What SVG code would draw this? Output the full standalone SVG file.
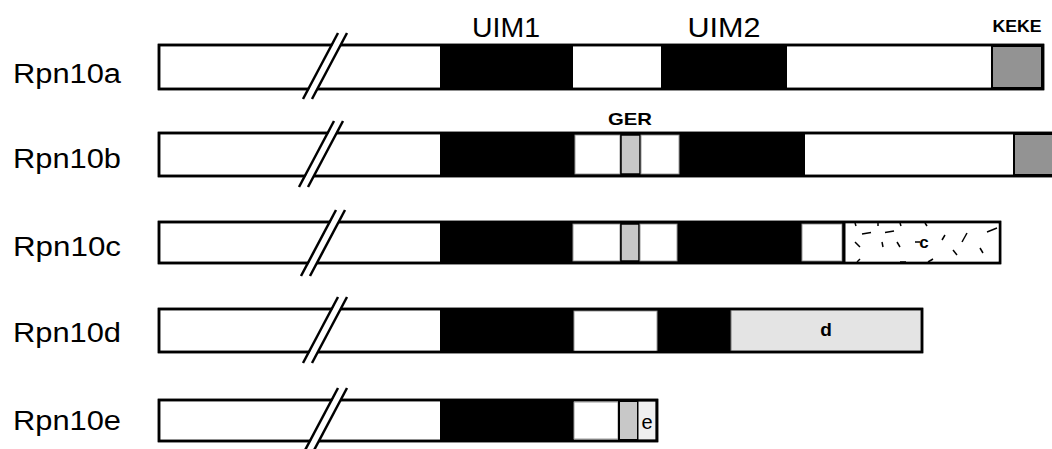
<svg xmlns="http://www.w3.org/2000/svg" xmlns:xlink="http://www.w3.org/1999/xlink" width="1052" height="449" viewBox="0 0 1052 449">
<style>
.lbl{font-family:"Liberation Sans",Arial,sans-serif;font-size:27px;fill:#000}
.top{font-family:"Liberation Sans",Arial,sans-serif;font-size:27px;fill:#000;text-anchor:middle}
.small{font-family:"Liberation Sans",Arial,sans-serif;font-size:17px;font-weight:bold;fill:#000;text-anchor:middle}
.bar{fill:#fff;stroke:#000;stroke-width:2.5}
.blk{fill:#000}
.wht{fill:#fff;stroke:#9a9a9a;stroke-width:1}
.dg{fill:#939393;stroke:#000;stroke-width:2}
.lg{fill:#c8c8c8;stroke:#000;stroke-width:1.5}
.dash{stroke:#000;stroke-width:1.5;fill:none}
</style>
<defs>
<g id="slash">
<polygon points="339,-12 347,-12 312,54 304,54" fill="#fff"/>
<line x1="338" y1="-12" x2="303" y2="54" stroke="#000" stroke-width="2.5"/>
<line x1="347" y1="-12" x2="312" y2="54" stroke="#000" stroke-width="2.5"/>
</g>
</defs>
<rect width="1052" height="449" fill="#fff"/>

<g id="headers">
<text class="top" x="506" y="37" textLength="68" lengthAdjust="spacingAndGlyphs">UIM1</text>
<text class="top" x="724" y="37" textLength="73" lengthAdjust="spacingAndGlyphs">UIM2</text>
<text class="small" x="1017" y="32" textLength="49" lengthAdjust="spacingAndGlyphs">KEKE</text>
<text class="small" x="630" y="125" textLength="44" lengthAdjust="spacingAndGlyphs">GER</text>
</g>

<g id="rpn10a">
<text class="lbl" x="13" y="83" textLength="108" lengthAdjust="spacingAndGlyphs">Rpn10a</text>
<rect class="bar" x="159" y="45" width="884" height="44"/>
<rect class="blk" x="440" y="45" width="133" height="44"/>
<rect class="blk" x="661" y="45" width="126" height="44"/>
<rect class="dg" x="992" y="46" width="50" height="42"/>
<rect x="159" y="45" width="884" height="44" fill="none" stroke="#000" stroke-width="2.5"/>
<use xlink:href="#slash" href="#slash" transform="translate(0,45)"/>
</g>

<g id="rpn10b">
<text class="lbl" x="13" y="168" textLength="108" lengthAdjust="spacingAndGlyphs">Rpn10b</text>
<rect class="bar" x="159" y="133" width="910" height="43"/>
<rect class="blk" x="440" y="133" width="365" height="43"/>
<rect class="wht" x="575" y="135" width="45" height="39"/>
<rect class="lg" x="621" y="135" width="19" height="39"/>
<rect class="wht" x="641" y="135" width="38" height="39"/>
<rect class="dg" x="1014" y="134" width="50" height="41"/>
<rect x="159" y="133" width="910" height="43" fill="none" stroke="#000" stroke-width="2.5"/>
<use xlink:href="#slash" href="#slash" transform="translate(-4,133)"/>
</g>

<g id="rpn10c">
<text class="lbl" x="13" y="256" textLength="108" lengthAdjust="spacingAndGlyphs">Rpn10c</text>
<rect class="bar" x="159" y="222" width="841" height="41"/>
<rect class="blk" x="440" y="222" width="403" height="41"/>
<rect class="wht" x="573" y="224" width="47" height="37"/>
<rect class="lg" x="621" y="224" width="18" height="37"/>
<rect class="wht" x="640" y="224" width="37" height="37"/>
<rect class="wht" x="802" y="224" width="40" height="37"/>
<rect x="845" y="223.5" width="154" height="38" fill="#fff"/>
<line x1="844" y1="222" x2="844" y2="263" stroke="#000" stroke-width="3"/>
<g class="dash">
<line x1="855" y1="223" x2="856" y2="226"/>
<line x1="878" y1="223" x2="878" y2="226"/>
<line x1="900" y1="223" x2="901" y2="226"/>
<line x1="925" y1="223" x2="927" y2="226"/>
<line x1="862" y1="234" x2="871" y2="232.5"/>
<line x1="885" y1="232.5" x2="894" y2="231"/>
<line x1="855" y1="242" x2="860" y2="247"/>
<line x1="882" y1="242" x2="883" y2="247"/>
<line x1="897" y1="242" x2="900" y2="247"/>
<line x1="915" y1="242" x2="920" y2="242"/>
<line x1="942" y1="240" x2="945" y2="235"/>
<line x1="962" y1="242" x2="967" y2="233"/>
<line x1="987" y1="232" x2="997" y2="228"/>
<line x1="953" y1="250" x2="957" y2="255"/>
<line x1="980" y1="248" x2="983" y2="253"/>
<line x1="857" y1="262" x2="860" y2="259"/>
<line x1="900" y1="262" x2="906" y2="262"/>
<line x1="928" y1="262" x2="933" y2="259"/>
</g>
<text class="small" x="924" y="248" style="font-size:17px">c</text>
<rect x="159" y="222" width="841" height="41" fill="none" stroke="#000" stroke-width="2.5"/>
<use xlink:href="#slash" href="#slash" transform="translate(-2,222)"/>
</g>

<g id="rpn10d">
<text class="lbl" x="13" y="342" textLength="108" lengthAdjust="spacingAndGlyphs">Rpn10d</text>
<rect class="bar" x="159" y="309" width="763" height="43"/>
<rect class="blk" x="440" y="309" width="291" height="44"/>
<rect class="wht" x="574" y="311" width="83" height="41"/>
<rect x="731" y="310" width="190" height="41" fill="#e4e4e4" stroke="#777" stroke-width="1"/>
<text class="small" x="826" y="336" style="font-size:19px">d</text>
<rect x="159" y="309" width="763" height="43" fill="none" stroke="#000" stroke-width="2.5"/>
<use xlink:href="#slash" href="#slash" transform="translate(0,309)"/>
</g>

<g id="rpn10e">
<text class="lbl" x="13" y="430" textLength="108" lengthAdjust="spacingAndGlyphs">Rpn10e</text>
<rect class="bar" x="159" y="400" width="498" height="41"/>
<rect class="blk" x="440" y="400" width="134" height="41"/>
<rect class="wht" x="574" y="402" width="44" height="37"/>
<rect class="lg" x="619" y="401" width="19" height="39" style="stroke-width:2"/>
<rect x="638" y="401" width="18" height="39" fill="#f0f0f0" stroke="#000" stroke-width="1"/>
<text class="small" x="647" y="429" style="font-weight:normal;font-size:20px">e</text>
<rect x="159" y="400" width="498" height="41" fill="none" stroke="#000" stroke-width="2.5"/>
<use xlink:href="#slash" href="#slash" transform="translate(0,400)"/>
</g>
</svg>
